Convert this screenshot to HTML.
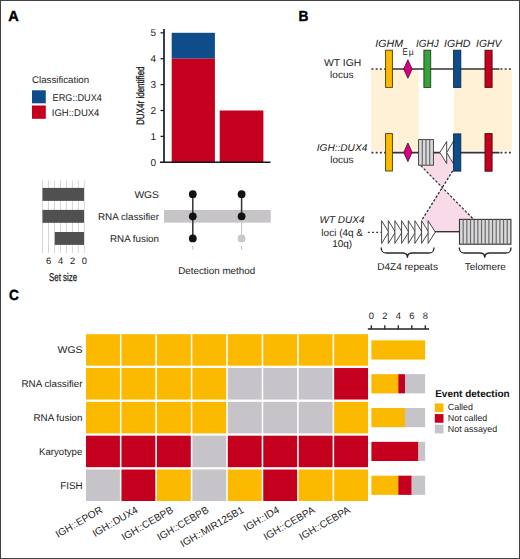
<!DOCTYPE html>
<html><head><meta charset="utf-8">
<style>
html,body{margin:0;padding:0;background:#fff;}
body{width:520px;height:559px;overflow:hidden;position:relative;}
svg{position:absolute;left:0;top:0;display:block;}
text{font-family:"Liberation Sans",sans-serif;fill:#222;text-rendering:geometricPrecision;}
</style></head><body>
<svg width="520" height="559" viewBox="0 0 520 559">
<rect x="0" y="0" width="520" height="559" fill="#fff"/>

<!-- ============ PANEL A ============ -->
<text x="8.3" y="20.8" font-size="14.6" font-weight="bold" stroke="#000" stroke-width="0.4" style="fill:#000">A</text>

<!-- bar chart -->
<rect x="171.7" y="32.8" width="43.2" height="25.9" fill="#0f4c8a"/>
<rect x="171.7" y="58.7" width="43.2" height="103.6" fill="#c5001f"/>
<rect x="219.7" y="110.5" width="43.7" height="51.8" fill="#c5001f"/>
<g stroke="#2f3838" stroke-width="1.3" fill="none">
  <line x1="164" y1="29" x2="164" y2="162.9" stroke-width="1.9"/>
  <line x1="160" y1="162.2" x2="270.5" y2="162.2" stroke="#151515" stroke-width="1.4"/>
  <line x1="160.5" y1="32.8" x2="164" y2="32.8" stroke="#222"/>
  <line x1="160.5" y1="58.7" x2="164" y2="58.7" stroke="#222"/>
  <line x1="160.5" y1="84.6" x2="164" y2="84.6" stroke="#222"/>
  <line x1="160.5" y1="110.5" x2="164" y2="110.5" stroke="#222"/>
  <line x1="160.5" y1="136.4" x2="164" y2="136.4" stroke="#222"/>
</g>
<g font-size="10" text-anchor="end">
  <text x="156" y="36.2">5</text>
  <text x="156" y="62.1">4</text>
  <text x="156" y="88">3</text>
  <text x="156" y="113.9">2</text>
  <text x="156" y="139.8">1</text>
  <text x="156" y="165.7">0</text>
</g>
<text transform="translate(144.2,125) rotate(-90)" font-size="10.8" stroke="#222" stroke-width="0.35" textLength="58.6" lengthAdjust="spacingAndGlyphs">DUX4r identified</text>

<!-- legend -->
<text x="32" y="83.3" font-size="9.7">Classification</text>
<rect x="32" y="90.3" width="13.8" height="13" fill="#0f4c8a"/>
<rect x="32" y="105.5" width="13.8" height="13.3" fill="#c5001f"/>
<text x="52.6" y="100.8" font-size="9.8" textLength="49.3" lengthAdjust="spacingAndGlyphs">ERG::DUX4</text>
<text x="51.8" y="116" font-size="9.7" textLength="47.6" lengthAdjust="spacingAndGlyphs">IGH::DUX4</text>

<!-- set size chart -->
<g stroke="#cfcfcf" stroke-width="0.85">
  <line x1="42.5" y1="180.5" x2="42.5" y2="253"/>
  <line x1="48.5" y1="180.5" x2="48.5" y2="253"/>
  <line x1="54.5" y1="180.5" x2="54.5" y2="253"/>
  <line x1="60.5" y1="180.5" x2="60.5" y2="253"/>
  <line x1="66.4" y1="180.5" x2="66.4" y2="253"/>
  <line x1="72.4" y1="180.5" x2="72.4" y2="253"/>
  <line x1="78.4" y1="180.5" x2="78.4" y2="253"/>
  <line x1="84.3" y1="180.5" x2="84.3" y2="253"/>
</g>
<rect x="42.5" y="187.9" width="41.5" height="13" fill="#505050"/>
<rect x="42.5" y="209.9" width="41.5" height="12.9" fill="#505050"/>
<rect x="54.8" y="232" width="29.2" height="12.9" fill="#505050"/>
<g font-size="9.4" text-anchor="middle">
  <text x="48.6" y="264.4">6</text>
  <text x="60.6" y="264.4">4</text>
  <text x="72.5" y="264.4">2</text>
  <text x="84.4" y="264.4">0</text>
</g>
<text x="49.1" y="280.5" font-size="11.3" stroke="#222" stroke-width="0.3" textLength="28" lengthAdjust="spacingAndGlyphs">Set size</text>

<!-- upset matrix -->
<rect x="164" y="210" width="106.8" height="12.6" fill="#c6c4c7"/>
<g font-size="9.8" text-anchor="end">
  <text x="159" y="197.7" textLength="24.6" lengthAdjust="spacingAndGlyphs">WGS</text>
  <text x="159" y="220">RNA classifier</text>
  <text x="159" y="242.3">RNA fusion</text>
</g>
<line x1="192.8" y1="194.2" x2="192.8" y2="238.4" stroke="#333" stroke-width="1.5"/>
<line x1="241.6" y1="194.2" x2="241.6" y2="216.3" stroke="#333" stroke-width="1.5"/>
<line x1="241.6" y1="216.3" x2="241.6" y2="238.4" stroke="#ccc" stroke-width="1.2"/>
<circle cx="192.8" cy="194.2" r="3.9" fill="#111"/>
<circle cx="192.8" cy="216.3" r="3.9" fill="#111"/>
<circle cx="192.8" cy="238.4" r="3.9" fill="#111"/>
<circle cx="241.6" cy="194.2" r="3.9" fill="#111"/>
<circle cx="241.6" cy="216.3" r="3.9" fill="#111"/>
<circle cx="241.6" cy="238.4" r="3.9" fill="#c8c8c8"/>
<g stroke="#aaa" stroke-width="0.8">
  <line x1="192.8" y1="246" x2="192.8" y2="249.5"/>
  <line x1="241.6" y1="246" x2="241.6" y2="249.5"/>
</g>
<text x="178.2" y="274.2" font-size="9.8" textLength="77" lengthAdjust="spacingAndGlyphs">Detection method</text>

<!-- ============ PANEL B ============ -->
<text x="298.6" y="20.8" textLength="9.9" lengthAdjust="spacingAndGlyphs" font-size="14.6" font-weight="bold" stroke="#000" stroke-width="0.4" style="fill:#000">B</text>

<!-- peach backgrounds -->
<rect x="371" y="68.8" width="47.5" height="82" fill="#fef1d6"/>
<rect x="453.8" y="68.8" width="58" height="82" fill="#fef1d6"/>

<!-- pink crossover -->
<polygon points="420.8,165.5 433.7,165.5 433.7,152.5 453.3,152.5 453.3,170.8 442,187.3" fill="#f9dae8"/>
<polygon points="442,187.3 473.5,219.3 459.3,219.3 459.3,231.7 435,231.7 422,219.8" fill="#f9dae8"/>
<g stroke="#2a2a2a" stroke-width="1.25" stroke-dasharray="2.5,1.7" fill="none">
  <line x1="420.8" y1="165.6" x2="473.5" y2="219.3"/>
  <line x1="452.8" y1="170.8" x2="422" y2="219.8"/>
</g>

<!-- gene labels -->
<g font-size="10.5" font-style="italic">
  <text x="375.3" y="46.7" textLength="27.8" lengthAdjust="spacingAndGlyphs">IGHM</text>
  <text x="416" y="46.7" textLength="22.8" lengthAdjust="spacingAndGlyphs">IGHJ</text>
  <text x="444" y="46.7" textLength="26.4" lengthAdjust="spacingAndGlyphs">IGHD</text>
  <text x="476" y="46.7" textLength="25.5" lengthAdjust="spacingAndGlyphs">IGHV</text>
</g>
<text x="402.6" y="54.9" font-size="10" textLength="5.3" lengthAdjust="spacingAndGlyphs">E</text><text x="408.8" y="54.9" font-size="8.6">μ</text>

<!-- left labels -->
<g font-size="10" text-anchor="middle">
  <text x="342.6" y="65.8" textLength="37.3" lengthAdjust="spacingAndGlyphs">WT IGH</text>
  <text x="341.8" y="78">locus</text>
  <text x="342" y="150.8" font-style="italic" textLength="50.5" lengthAdjust="spacingAndGlyphs">IGH::DUX4</text>
  <text x="341.9" y="163">locus</text>
  <text x="342" y="223.2" font-style="italic" textLength="45" lengthAdjust="spacingAndGlyphs">WT DUX4</text>
  <text x="342.2" y="235.5">loci (4q &amp;</text>
  <text x="342.2" y="247.3">10q)</text>
</g>

<!-- locus 1 -->
<g stroke="#333" stroke-width="1.6" fill="none">
  <line x1="371.5" y1="69" x2="385" y2="69" stroke-dasharray="1.9,2.3"/>
  <line x1="385" y1="69" x2="499.5" y2="69"/>
  <line x1="500.5" y1="69" x2="512" y2="69" stroke-dasharray="1.9,2.3"/>
  <line x1="371.5" y1="152.6" x2="385" y2="152.6" stroke-dasharray="1.9,2.3"/>
  <line x1="385" y1="152.6" x2="440" y2="152.6"/>
  <line x1="460" y1="152.6" x2="499.5" y2="152.6"/>
  <line x1="500.5" y1="152.6" x2="512" y2="152.6" stroke-dasharray="1.9,2.3"/>
</g>
<g stroke-width="0.9">
  <rect x="385.6" y="50.2" width="6.8" height="37.2" fill="#fbb900" stroke="#4a3a10"/>
  <rect x="423.9" y="50.2" width="6.8" height="37.2" fill="#35a33a" stroke="#1f3a1f"/>
  <rect x="453.6" y="50.2" width="7.2" height="37.2" fill="#0f4c8a" stroke="#0a2a4a"/>
  <rect x="485" y="50.2" width="7.1" height="37.2" fill="#c5001f" stroke="#4a0a10"/>
  <polygon points="407.9,59.8 412.1,69 407.9,78.2 403.7,69" fill="#d6007e" stroke="#5a1040"/>
</g>

<!-- locus 2 -->
<g stroke-width="0.9">
  <rect x="385.6" y="133.6" width="6.8" height="37.4" fill="#fbb900" stroke="#4a3a10"/>
  <polygon points="407.9,143 412.1,152.5 407.9,161.6 403.7,152.5" fill="#d6007e" stroke="#5a1040"/>
  <rect x="418.6" y="139.6" width="14.8" height="25.6" fill="#d9d9db" stroke="#333"/>
  <g stroke="#6a6a6a" stroke-width="1.2">
    <line x1="422.3" y1="139.6" x2="422.3" y2="165.2"/>
    <line x1="426" y1="139.6" x2="426" y2="165.2"/>
    <line x1="429.7" y1="139.6" x2="429.7" y2="165.2"/>
  </g>
  <polygon points="446.7,141.5 446.7,163.5 439.8,152.5" fill="#fff" stroke="#333" stroke-linejoin="miter"/>
  <polygon points="453.3,141.5 453.3,163.5 446.7,152.5" fill="#fff" stroke="#333"/>
  <rect x="453.6" y="133.9" width="7.2" height="37.2" fill="#0f4c8a" stroke="#0a2a4a"/>
  <rect x="485" y="133.6" width="7.1" height="37.6" fill="#c5001f" stroke="#4a0a10"/>
</g>

<!-- WT DUX4 locus -->
<line x1="367.8" y1="232.3" x2="381.5" y2="232.3" stroke="#333" stroke-width="1.3" stroke-dasharray="1.9,2.3"/>
<line x1="435" y1="231.7" x2="459.3" y2="231.7" stroke="#333" stroke-width="1.4"/>
<g fill="#fff" stroke="#333" stroke-width="0.9">
  <polygon points="381.6,220.7 388.8,232.1 381.6,243.4"/>
  <polygon points="388.3,220.7 395.5,232.1 388.3,243.4"/>
  <polygon points="394.9,220.7 402.1,232.1 394.9,243.4"/>
  <polygon points="401.6,220.7 408.8,232.1 401.6,243.4"/>
  <polygon points="408.3,220.7 415.5,232.1 408.3,243.4"/>
  <polygon points="414.9,220.7 422.1,232.1 414.9,243.4"/>
  <polygon points="421.6,220.7 428.8,232.1 421.6,243.4"/>
  <polygon points="428.1,220.7 435.3,232.1 428.1,243.4"/>
</g>
<rect x="459.5" y="219.4" width="51.4" height="24.8" fill="#d9d9db" stroke="#333" stroke-width="1.1"/>
<g stroke="#6a6a6a" stroke-width="1.2">
    <line x1="463.17" y1="219.4" x2="463.17" y2="244.2"/>
    <line x1="466.84" y1="219.4" x2="466.84" y2="244.2"/>
    <line x1="470.51" y1="219.4" x2="470.51" y2="244.2"/>
    <line x1="474.19" y1="219.4" x2="474.19" y2="244.2"/>
    <line x1="477.86" y1="219.4" x2="477.86" y2="244.2"/>
    <line x1="481.53" y1="219.4" x2="481.53" y2="244.2"/>
    <line x1="485.20" y1="219.4" x2="485.20" y2="244.2"/>
    <line x1="488.87" y1="219.4" x2="488.87" y2="244.2"/>
    <line x1="492.54" y1="219.4" x2="492.54" y2="244.2"/>
    <line x1="496.21" y1="219.4" x2="496.21" y2="244.2"/>
    <line x1="499.89" y1="219.4" x2="499.89" y2="244.2"/>
    <line x1="503.56" y1="219.4" x2="503.56" y2="244.2"/>
    <line x1="507.23" y1="219.4" x2="507.23" y2="244.2"/>
</g>

<!-- braces -->
<g fill="none" stroke="#2a2a2a" stroke-width="1.35" stroke-linejoin="round">
  <path d="M381.2,247.6 C381.2,251.8 382.7,253 386.7,253 L402.4,253 C405.9,253 407.4,254.2 407.4,257.2 C407.4,254.2 408.9,253 412.4,253 L428.5,253 C432.5,253 434,251.8 434,247.6"/>
  <path d="M459.3,247.6 C459.3,251.8 460.8,253 464.8,253 L479.8,253 C483.3,253 484.8,254.2 484.8,257.2 C484.8,254.2 486.3,253 489.8,253 L505.5,253 C509.5,253 511,251.8 511,247.6"/>
</g>
<g font-size="10" text-anchor="middle">
  <text x="407.6" y="269.8">D4Z4 repeats</text>
  <text x="485.3" y="269.8">Telomere</text>
</g>

<!-- ============ PANEL C ============ -->
<text x="9.1" y="300.1" textLength="9.9" lengthAdjust="spacingAndGlyphs" font-size="14.6" font-weight="bold" stroke="#000" stroke-width="0.4" style="fill:#000">C</text>
<rect x="86.00" y="334.20" width="33.9" height="31.5" fill="#fbb900"/>
<rect x="121.45" y="334.20" width="33.9" height="31.5" fill="#fbb900"/>
<rect x="156.90" y="334.20" width="33.9" height="31.5" fill="#fbb900"/>
<rect x="192.35" y="334.20" width="33.9" height="31.5" fill="#fbb900"/>
<rect x="227.80" y="334.20" width="33.9" height="31.5" fill="#fbb900"/>
<rect x="263.25" y="334.20" width="33.9" height="31.5" fill="#fbb900"/>
<rect x="298.70" y="334.20" width="33.9" height="31.5" fill="#fbb900"/>
<rect x="334.15" y="334.20" width="33.9" height="31.5" fill="#fbb900"/>
<rect x="86.00" y="368.03" width="33.9" height="31.5" fill="#fbb900"/>
<rect x="121.45" y="368.03" width="33.9" height="31.5" fill="#fbb900"/>
<rect x="156.90" y="368.03" width="33.9" height="31.5" fill="#fbb900"/>
<rect x="192.35" y="368.03" width="33.9" height="31.5" fill="#fbb900"/>
<rect x="227.80" y="368.03" width="33.9" height="31.5" fill="#c6c4c9"/>
<rect x="263.25" y="368.03" width="33.9" height="31.5" fill="#c6c4c9"/>
<rect x="298.70" y="368.03" width="33.9" height="31.5" fill="#c6c4c9"/>
<rect x="334.15" y="368.03" width="33.9" height="31.5" fill="#c5001f"/>
<rect x="86.00" y="401.86" width="33.9" height="31.5" fill="#fbb900"/>
<rect x="121.45" y="401.86" width="33.9" height="31.5" fill="#fbb900"/>
<rect x="156.90" y="401.86" width="33.9" height="31.5" fill="#fbb900"/>
<rect x="192.35" y="401.86" width="33.9" height="31.5" fill="#fbb900"/>
<rect x="227.80" y="401.86" width="33.9" height="31.5" fill="#c6c4c9"/>
<rect x="263.25" y="401.86" width="33.9" height="31.5" fill="#c6c4c9"/>
<rect x="298.70" y="401.86" width="33.9" height="31.5" fill="#c6c4c9"/>
<rect x="334.15" y="401.86" width="33.9" height="31.5" fill="#fbb900"/>
<rect x="86.00" y="435.69" width="33.9" height="31.5" fill="#c5001f"/>
<rect x="121.45" y="435.69" width="33.9" height="31.5" fill="#c5001f"/>
<rect x="156.90" y="435.69" width="33.9" height="31.5" fill="#c5001f"/>
<rect x="192.35" y="435.69" width="33.9" height="31.5" fill="#c6c4c9"/>
<rect x="227.80" y="435.69" width="33.9" height="31.5" fill="#c5001f"/>
<rect x="263.25" y="435.69" width="33.9" height="31.5" fill="#c5001f"/>
<rect x="298.70" y="435.69" width="33.9" height="31.5" fill="#c5001f"/>
<rect x="334.15" y="435.69" width="33.9" height="31.5" fill="#c5001f"/>
<rect x="86.00" y="469.52" width="33.9" height="31.5" fill="#c6c4c9"/>
<rect x="121.45" y="469.52" width="33.9" height="31.5" fill="#c5001f"/>
<rect x="156.90" y="469.52" width="33.9" height="31.5" fill="#fbb900"/>
<rect x="192.35" y="469.52" width="33.9" height="31.5" fill="#c6c4c9"/>
<rect x="227.80" y="469.52" width="33.9" height="31.5" fill="#fbb900"/>
<rect x="263.25" y="469.52" width="33.9" height="31.5" fill="#c5001f"/>
<rect x="298.70" y="469.52" width="33.9" height="31.5" fill="#fbb900"/>
<rect x="334.15" y="469.52" width="33.9" height="31.5" fill="#fbb900"/>
<g font-size="9.8" text-anchor="end">
  <text x="82.5" y="353.4" textLength="25" lengthAdjust="spacingAndGlyphs">WGS</text>
  <text x="82.5" y="387.3">RNA classifier</text>
  <text x="82.5" y="421.1">RNA fusion</text>
  <text x="82.3" y="454.9" textLength="43.2" lengthAdjust="spacingAndGlyphs">Karyotype</text>
  <text x="82.5" y="488.8">FISH</text>
</g>
<g font-size="10.1" text-anchor="end">
  <text transform="translate(103.2,511.9) rotate(-30)">IGH::EPOR</text>
  <text transform="translate(138.6,511.9) rotate(-30)">IGH::DUX4</text>
  <text transform="translate(174.0,511.9) rotate(-30)">IGH::CEBPB</text>
  <text transform="translate(209.5,511.9) rotate(-30)">IGH::CEBPB</text>
  <text transform="translate(244.5,511.9) rotate(-30)">IGH::MIR125B1</text>
  <text transform="translate(280.0,511.9) rotate(-30)">IGH::ID4</text>
  <text transform="translate(315.5,511.9) rotate(-30)">IGH::CEBPA</text>
  <text transform="translate(350.9,511.9) rotate(-30)">IGH::CEBPA</text>
</g>
<rect x="371.40" y="340.35" width="53.76" height="19.2" fill="#fbb900"/>
<rect x="371.40" y="374.18" width="26.88" height="19.2" fill="#fbb900"/>
<rect x="398.28" y="374.18" width="6.72" height="19.2" fill="#c5001f"/>
<rect x="405.00" y="374.18" width="20.16" height="19.2" fill="#c6c4c9"/>
<rect x="371.40" y="408.01" width="33.60" height="19.2" fill="#fbb900"/>
<rect x="405.00" y="408.01" width="20.16" height="19.2" fill="#c6c4c9"/>
<rect x="371.40" y="441.84" width="47.04" height="19.2" fill="#c5001f"/>
<rect x="418.44" y="441.84" width="6.72" height="19.2" fill="#c6c4c9"/>
<rect x="371.40" y="475.67" width="26.88" height="19.2" fill="#fbb900"/>
<rect x="398.28" y="475.67" width="13.44" height="19.2" fill="#c5001f"/>
<rect x="411.72" y="475.67" width="13.44" height="19.2" fill="#c6c4c9"/>
<g stroke="#222" stroke-width="1.3">
  <line x1="367.8" y1="329" x2="429" y2="329"/>
  <line x1="371.30" y1="325.2" x2="371.30" y2="329"/>
  <line x1="384.80" y1="325.2" x2="384.80" y2="329"/>
  <line x1="398.30" y1="325.2" x2="398.30" y2="329"/>
  <line x1="411.80" y1="325.2" x2="411.80" y2="329"/>
  <line x1="425.30" y1="325.2" x2="425.30" y2="329"/>
</g>
<g font-size="9.4" text-anchor="middle">
  <text x="371.30" y="319">0</text>
  <text x="384.80" y="319">2</text>
  <text x="398.30" y="319">4</text>
  <text x="411.80" y="319">6</text>
  <text x="425.30" y="319">8</text>
</g>
<text x="435.2" y="396.8" font-size="10" font-weight="bold" style="fill:#111">Event detection</text>
<rect x="434.8" y="403.40" width="8.7" height="8.7" fill="#fbb900"/>
<text x="447.8" y="410.40" font-size="8.9">Called</text>
<rect x="434.8" y="414.05" width="8.7" height="8.7" fill="#c5001f"/>
<text x="447.8" y="421.05" font-size="8.9">Not called</text>
<rect x="434.8" y="424.70" width="8.7" height="8.7" fill="#c6c4c9"/>
<text x="447.8" y="431.70" font-size="8.9">Not assayed</text>

<rect x="0.5" y="0.5" width="519" height="558" fill="none" stroke="#424242" stroke-width="1"/>
</svg>
</body></html>
